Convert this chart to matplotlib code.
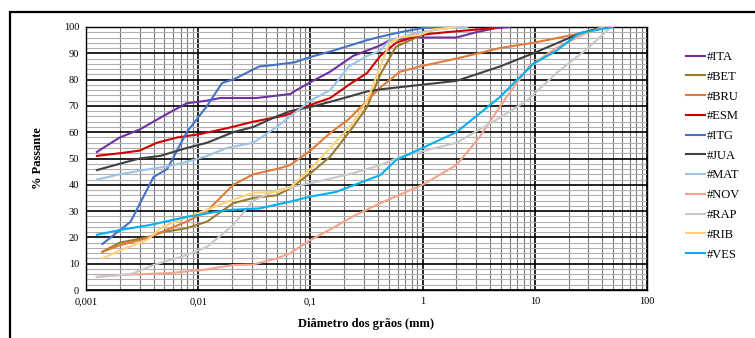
import math
import matplotlib.pyplot as plt
import matplotlib.ticker as mticker
from matplotlib.patches import Rectangle

plt.rcParams['font.family'] = ['Liberation Serif', 'DejaVu Serif']

# grain size curves (diameter in mm, % passing)
ita_x = [0.00125, 0.002, 0.003, 0.0053, 0.0079, 0.012, 0.0157, 0.033, 0.066, 0.075, 0.1, 0.15, 0.24, 0.42, 0.51, 0.82, 1.6, 2.0, 3.0, 4.5, 6.0]
ita_y = [52.5, 58, 61, 67, 71, 72, 73, 73, 74.5, 76, 79, 83, 89, 93, 95, 96, 96, 96, 98, 99.6, 100]

bet_x = [0.0014, 0.002, 0.0035, 0.0048, 0.0079, 0.012, 0.0205, 0.031, 0.05, 0.066, 0.1, 0.15, 0.24, 0.32, 0.42, 0.58, 1.25, 2.0]
bet_y = [14.5, 18, 20, 22, 23.5, 26, 33, 35, 36, 38.7, 44.4, 50.7, 62, 69.6, 82, 92.5, 99, 100]

bru_x = [0.0014, 0.002, 0.0035, 0.0053, 0.0079, 0.012, 0.0205, 0.031, 0.05, 0.066, 0.1, 0.15, 0.22, 0.32, 0.42, 0.63, 0.95, 2.0, 4.9, 9.7, 25, 41]
bru_y = [14.5, 17, 19.7, 23, 26, 30, 40, 44, 46, 47.5, 53, 59.7, 65, 72, 77, 83, 85, 88, 92, 94, 97.5, 100]

esm_x = [0.00125, 0.002, 0.003, 0.0043, 0.0065, 0.0104, 0.018, 0.031, 0.054, 0.066, 0.075, 0.11, 0.15, 0.22, 0.32, 0.42, 0.58, 0.95, 1.6, 3.0, 5.2]
esm_y = [51, 52, 53, 56, 58, 59.3, 61.5, 64, 66, 67, 68.5, 71, 73, 78, 82.5, 89, 94, 97, 98, 99, 100]

itg_x = [0.0014, 0.0025, 0.004, 0.0053, 0.0079, 0.012, 0.0163, 0.0205, 0.035, 0.046, 0.073, 0.1, 0.16, 0.32, 0.42, 0.63, 1.0, 1.5]
itg_y = [17.5, 26, 43, 46, 60, 70, 78.7, 80, 85, 85.5, 86.6, 88.6, 91, 95, 96.3, 98, 99.6, 100]

jua_x = [0.00125, 0.002, 0.003, 0.0046, 0.0079, 0.012, 0.0205, 0.031, 0.05, 0.066, 0.11, 0.22, 0.32, 0.42, 2.0, 4.9, 9.7, 25, 41]
jua_y = [45.6, 48, 50, 51, 54, 56, 60, 62, 66, 68, 70, 73.5, 75.5, 76.3, 79.5, 85, 90, 97.5, 100]

mat_x = [0.00125, 0.002, 0.0037, 0.0053, 0.0079, 0.012, 0.018, 0.031, 0.05, 0.066, 0.1, 0.15, 0.22, 0.32, 0.42, 0.51, 0.95, 1.6, 2.5]
mat_y = [42, 44, 46, 47, 48.7, 51, 54, 56, 62, 66, 72, 76, 85, 89, 91, 95, 98, 99.5, 100]

nov_x = [0.00125, 0.002, 0.0053, 0.011, 0.0205, 0.031, 0.05, 0.066, 0.1, 0.15, 0.24, 0.42, 1.0, 2.0, 3.2, 5.6, 8.9, 15.5, 28, 41]
nov_y = [5, 5.7, 6.4, 7.6, 9.5, 9.7, 12, 14, 19, 23, 28, 33, 40, 47.5, 58, 73.4, 85, 92, 97.5, 100]

rap_x = [0.00125, 0.0025, 0.004, 0.0079, 0.012, 0.0205, 0.031, 0.05, 0.066, 0.1, 0.24, 0.42, 0.63, 2.0, 4.5, 8.5, 15.6, 28, 48]
rap_y = [5, 6, 9.5, 13.3, 16.4, 24.7, 34, 38, 39, 40.6, 44.4, 47.5, 50.6, 56, 64.6, 72, 82.5, 91, 100]

rib_x = [0.0014, 0.002, 0.0035, 0.0048, 0.012, 0.018, 0.031, 0.05, 0.066, 0.1, 0.15, 0.24, 0.32, 0.42, 0.51, 0.63, 0.95, 1.25, 2.0]
rib_y = [12, 15, 19, 24, 30.5, 33.5, 37, 37.3, 39, 46, 54, 63.5, 72, 85, 94, 96, 97, 99, 100]

ves_x = [0.00125, 0.002, 0.0037, 0.0079, 0.018, 0.035, 0.066, 0.1, 0.17, 0.42, 0.58, 2.0, 4.9, 9.7, 15.6, 25, 50]
ves_y = [21, 22.8, 24.7, 27.8, 30.4, 31, 33.6, 35.5, 37.3, 43.7, 49.4, 60, 73.4, 86, 91, 97.7, 100]

series = [
    ("#ITA", ita_x, ita_y, "#7030A0"),
    ("#BET", bet_x, bet_y, "#9C7A2B"),
    ("#BRU", bru_x, bru_y, "#E07B39"),
    ("#ESM", esm_x, esm_y, "#D00000"),
    ("#ITG", itg_x, itg_y, "#4472C4"),
    ("#JUA", jua_x, jua_y, "#404040"),
    ("#MAT", mat_x, mat_y, "#9DC3E6"),
    ("#NOV", nov_x, nov_y, "#F4A48A"),
    ("#RAP", rap_x, rap_y, "#C8C8C8"),
    ("#RIB", rib_x, rib_y, "#FFD27A"),
    ("#VES", ves_x, ves_y, "#00B0F0"),
]


def fmt_x(v, pos):
    if v >= 1:
        return '%g' % v
    return ('%.*f' % (-int(round(math.log10(v))), v)).replace('.', ',')


fig = plt.figure(figsize=(7.55, 3.38), dpi=100)
ax = fig.add_axes([86/755, 1 - 290/338, 561/755, 263/338])

for name, xs, ys, c in series:
    ax.plot(xs, ys, color=c, lw=1.5, label=name, zorder=3)

ax.set_xscale('log')
ax.set_xlim(0.001, 100)
ax.set_ylim(0, 100)
ax.yaxis.set_major_locator(mticker.MultipleLocator(10))
ax.yaxis.set_minor_locator(mticker.MultipleLocator(2))
ax.xaxis.set_major_locator(mticker.LogLocator(base=10))
ax.xaxis.set_minor_locator(mticker.LogLocator(base=10, subs=range(2, 10)))
ax.xaxis.set_minor_formatter(mticker.NullFormatter())
ax.xaxis.set_major_formatter(mticker.FuncFormatter(fmt_x))

ax.grid(True, which='major', axis='both', color='black', lw=1.2, zorder=1)
ax.grid(True, which='minor', axis='y', color='#b0b0b0', lw=0.8, zorder=0)
ax.grid(True, which='minor', axis='x', color='#7a7a7a', lw=0.8, zorder=0)
ax.tick_params(which='both', length=0, labelsize=7.5, pad=5)
for s in ax.spines.values():
    s.set_color('black')
    s.set_linewidth(1.0)

ax.set_ylabel('% Passante', fontsize=9, fontweight='bold', labelpad=14)
ax.set_xlabel('Diâmetro dos grãos (mm)', fontsize=9, fontweight='bold', labelpad=9)

fig.legend(loc='upper left', bbox_to_anchor=(686/755, 1 - 51/338), frameon=False,
           fontsize=9, handlelength=1.5, handletextpad=0.15, labelspacing=0.62,
           borderpad=0, borderaxespad=0)

# outer frame of the picture
fig.patches.append(Rectangle((10/755, -0.2), 1.0, 1.2 - 12/338, transform=fig.transFigure,
                             fill=False, edgecolor='black', lw=1.6))

fig.savefig('out.png', dpi=100)
